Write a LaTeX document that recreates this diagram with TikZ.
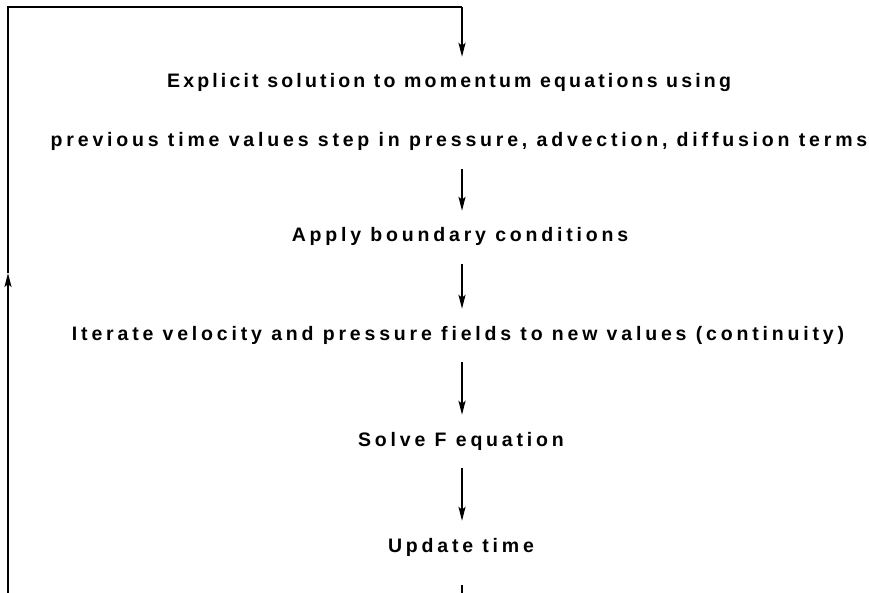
\documentclass[tikz,border=0pt]{standalone}
\usepackage{fontspec}
\setmainfont{Liberation Sans}[LetterSpace=19.6]
\usetikzlibrary{arrows.meta}
\begin{document}
\begin{tikzpicture}[x=1pt,y=-1pt,
  txt/.style={font=\fontsize{19.5}{23}\selectfont\bfseries, inner xsep=0pt, inner ysep=17pt,
              text height=14pt, text depth=5pt, anchor=base},
  ln/.style={line width=2pt},
  arr/.style={line width=2pt, -{Stealth[length=14pt,width=7pt,inset=3pt]}}]
\clip (0,0) rectangle (869,593);
\fill[white] (0,0) rectangle (869,593);
\coordinate (tl) at (8,7);
\coordinate (tr) at (462,7);
\coordinate (bl) at (8,612);
\coordinate (br) at (462,612);
\coordinate (mid) at (8,273);
\node[txt] (n1) at (449,88)  {\addfontfeature{LetterSpace=16.3}Explicit solution to momentum equations using};
\node[txt] (n2) at (459,147) {previous time values step in pressure, advection, diffusion terms};
\node[txt] (n3) at (460,242) {Apply boundary conditions};
\node[txt] (n4) at (458,340) {Iterate velocity and pressure fields to new values (continuity)};
\node[txt] (n5) at (461,446) {Solve F equation};
\node[txt] (n6) at (461,552) {Update time};
\draw[ln] (mid) -- (tl) -- (tr);
\draw[arr] (tr) -- (n1.north -| tr);
\draw[arr] (n2.south -| tr) -- (n3.north -| tr);
\draw[arr] (n3.south -| tr) -- (n4.north -| tr);
\draw[arr] (n4.south -| tr) -- (n5.north -| tr);
\draw[arr] (n5.south -| tr) -- (n6.north -| tr);
\draw[ln] ([yshift=-11pt]n6.south -| tr) -- (br) -- (bl);
\draw[arr] (bl) -- (mid);
\end{tikzpicture}
\end{document}
